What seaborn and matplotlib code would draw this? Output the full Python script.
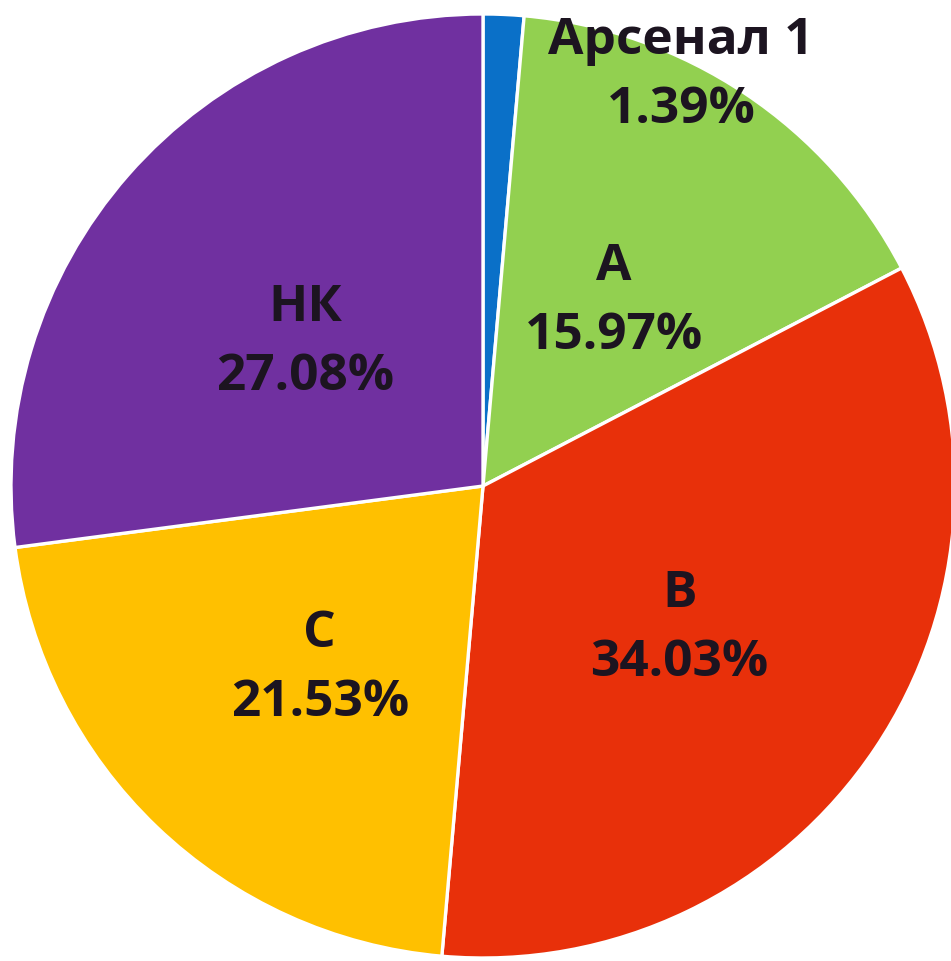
import matplotlib
matplotlib.use("Agg")
import matplotlib.pyplot as plt
import seaborn as sns
import numpy as np

categories = ["Арсенал 1", "A", "B", "C", "НК"]
shares = [1.39, 15.97, 34.03, 21.53, 27.08]
colors = ["#0A70C8", "#92D050", "#E8300A", "#FFC000", "#7030A0"]

sns.set_theme(style="white")
plt.rcParams["font.family"] = ["Open Sans", "DejaVu Sans"]

fig = plt.figure(figsize=(9.51, 9.61), dpi=100)
ax = fig.add_axes([0, 0, 1, 1])

wedges, texts, autotexts = ax.pie(
    shares,
    colors=sns.color_palette(colors),
    startangle=90,
    counterclock=False,
    autopct="%.2f%%",
    pctdistance=0.5,
    wedgeprops=dict(edgecolor="white", linewidth=2.4),
)

for name, w, t in zip(categories, wedges, autotexts):
    t.set_text(f"{name}\n{t.get_text()}")
    t.set_fontsize(37)
    t.set_fontweight("bold")
    t.set_color("#1c1420")
    t.set_linespacing(1.5)
    t.set_ha("center")
    t.set_va("center")
    x, y = t.get_position()
    t.set_position((x, y - 0.025))

# small first slice: label sits outside, to the right of the top
autotexts[0].set_position((0.42, 0.87))

# place the pie so that its centre and radius match the reference
r_px = 472
cx, cy = 483, 486
ax.set_aspect("auto")
ax.set_xlim(-cx / r_px, (951 - cx) / r_px)
ax.set_ylim(-(961 - cy) / r_px, cy / r_px)
ax.axis("off")

fig.savefig("out.png", dpi=100)
